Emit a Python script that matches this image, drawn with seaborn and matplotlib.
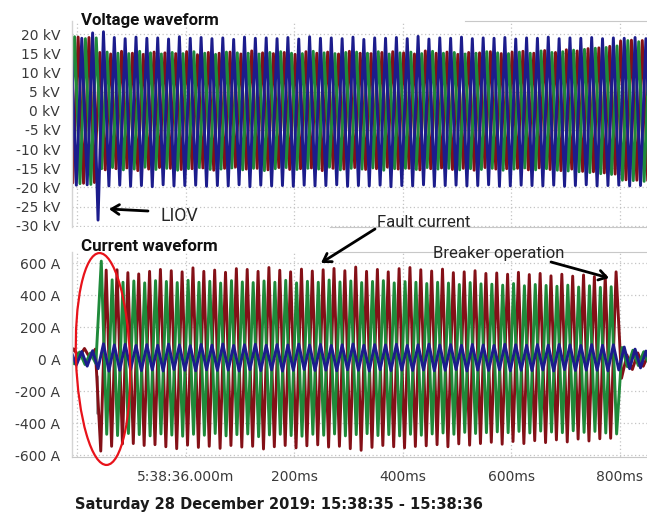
import numpy as np
import pandas as pd
import matplotlib
matplotlib.use("Agg")
import matplotlib.pyplot as plt
from matplotlib.patches import Ellipse
import seaborn as sns

# 50 Hz record: one extreme (peak or trough) every half cycle
HALF_CYCLE_MS = 10.0

# ---------------- Voltage extremes (kV), alternating peak / trough ----------------
v_red_start = -218.7
v_red_prefault = [19.0, -18.8, 19.2, -18.9, 19.1, -18.7]
v_red_fault = [
    15.2, -15.4, 14.8, -15.1, 15.5, -14.9, 15.0, -15.6, 14.7, -15.2, 15.3, -14.8,
    15.1, -15.0, 14.9, -15.3, 15.4, -15.1, 14.6, -14.9, 15.2, -15.5, 15.0, -15.0,
    15.3, -14.7, 14.8, -15.2, 15.6, -15.0, 15.1, -15.4, 14.9, -14.8, 15.2, -15.3,
    14.7, -15.1, 15.4, -14.9, 15.0, -15.6, 15.3, -15.0, 14.8, -15.2, 15.5, -14.8,
    15.0, -15.3, 14.9, -15.1, 15.2, -14.7, 15.4, -15.2, 15.1, -15.0, 14.8, -15.4,
    15.6, -15.1, 15.0, -14.9, 15.3, -15.3, 14.7, -15.0, 15.2, -15.5, 15.1, -14.8,
    15.4, -15.2, 14.9, -15.1, 15.3, -15.0, 15.5, -15.4, 15.0, -14.9, 15.7, -15.3,
    15.2, -15.6, 15.9, -15.2, 15.6, -15.8, 16.2, -15.9, 16.4, -16.2, 16.8, -16.5,
]
v_red_postfault = [18.2, -18.0, 18.4, -18.1, 18.3, -18.2]

v_green_start = -225.3
v_green_prefault = [19.1, -18.9, 19.3, -19.0, 18.8, -19.2, 19.0]
v_green_fault = [
    -15.1, 15.3, -14.8, 15.0, -15.4, 14.9, -15.2, 15.5, -14.7, 15.1, -15.3, 14.8,
    -15.0, 15.2, -15.5, 14.9, -15.1, 15.4, -14.8, 15.0, -15.3, 14.7, -15.2, 15.3,
    -14.9, 15.1, -15.4, 15.0, -15.0, 14.8, -15.6, 15.2, -15.1, 15.4, -14.8, 15.0,
    -15.3, 14.9, -15.0, 15.5, -15.2, 15.1, -14.7, 14.9, -15.4, 15.2, -15.0, 15.3,
    -15.2, 15.0, -14.9, 15.4, -15.5, 14.8, -15.1, 15.1, -15.0, 15.3, -15.3, 14.9,
    -14.8, 15.5, -15.2, 15.0, -15.0, 15.2, -15.4, 14.8, -15.1, 15.0, -15.3, 15.4,
    -15.0, 15.1, -15.5, 14.9, -15.2, 15.3, -14.9, 15.0, -15.4, 15.6, -15.1, 15.2,
    -15.5, 15.4, -15.7, 15.8, -15.9, 16.0, -16.1, 16.3, -16.4, 16.5, -16.6, 16.9,
]
v_green_postfault = [-18.1, 18.3, -18.2, 18.0, -18.4, 18.2]

v_blue_start = -222.0
v_blue_prefault = [-19.2, 19.0, -19.4, 18.9, -19.3, 20.3]
v_blue_overvoltage = [-28.5, 20.6]          # lightning induced overvoltage
v_blue_rest = [
    -19.6, 19.1, -19.4, 18.8, -19.7, 19.2, -19.5, 18.9, -19.8, 19.0,
    -19.3, 18.7, -19.6, 19.3, -19.5, 18.9, -19.4, 19.1, -19.7, 18.8,
    -19.5, 19.0, -19.6, 18.6, -19.3, 19.2, -19.8, 18.9, -19.4, 19.0,
    -19.6, 18.8, -19.5, 19.1, -19.7, 18.7, -19.4, 19.3, -19.6, 18.9,
    -19.5, 19.0, -19.3, 18.8, -19.7, 19.2, -19.5, 18.6, -19.6, 19.0,
    -19.4, 18.9, -19.8, 19.1, -19.5, 18.8, -19.6, 19.4, -19.3, 18.7,
    -19.7, 19.0, -19.5, 18.9, -19.4, 19.2, -19.6, 18.8, -19.5, 19.0,
    -19.3, 18.9, -19.7, 19.1, -19.6, 18.7, -19.4, 19.0, -19.5, 18.9,
    -19.6, 19.2, -19.4, 18.8, -19.7, 19.0, -19.5, 18.9, -19.3, 19.1,
    -19.6, 18.8, -19.5, 19.0, -19.4, 18.9, -19.6, 19.1, -19.5, 18.8,
    -19.4,
]

# ---------------- Current extremes (A), alternating peak / trough ----------------
i_red_start = -217.0
i_red_prefault = [8, 64, 12, 66, 6, 62]
i_red_fault = [
    -575, 556, -545, 558, -530, 540, -528, 532, -540, 548, -535, 560,
    -548, 552, -560, 545, -538, 570, -552, 548, -545, 556, -558, 542,
    -540, 565, -550, 560, -545, 548, -562, 572, -548, 555, -540, 545,
    -555, 562, -542, 550, -536, 558, -550, 566, -545, 552, -560, 575,
    -570, 548, -552, 560, -540, 545, -548, 565, -555, 572, -546, 558,
    -542, 550, -535, 562, -548, 540, -530, 545, -538, 552, -528, 535,
    -520, 538, -532, 530, -515, 542, -528, 528, -510, 535, -522, 520,
    -505, 530, -518, 518, -500, 525, -512, 515, -498, 522, -495, 545,
]
i_red_postfault = [-120, 25, -65, 38, -45, 30]

i_green_start = -216.0
i_green_prefault = [40, -30, 44, -34, 38, -28]
i_green_fault = [
    612, -470, 495, -478, 480, -465, 488, -472, 476, -480, 490, -468,
    485, -475, 478, -482, 492, -470, 480, -476, 486, -465, 475, -480,
    490, -472, 482, -468, 478, -485, 488, -474, 480, -470, 492, -478,
    476, -482, 486, -470, 480, -476, 494, -468, 482, -480, 488, -472,
    478, -466, 485, -478, 490, -472, 476, -480, 484, -470, 480, -476,
    472, -468, 480, -462, 475, -470, 466, -458, 478, -465, 470, -460,
    468, -455, 462, -460, 472, -452, 458, -462, 466, -450, 460, -456,
    455, -460, 462, -448, 450, -458, 458, -452, 448, -462, 452, -468,
]
i_green_postfault = [72, -48, 55, -40, 46, -35]

i_blue_start = -222.0
i_blue_prefault = [-42, 50, -38, 47, -44, 52]
i_blue_rest = [
    -60, 95, -75, 88, -70, 92, -66, 85, -72, 90,
    -68, 86, -74, 93, -65, 88, -70, 84, -73, 91,
    -67, 87, -71, 94, -69, 85, -74, 89, -66, 92,
    -72, 86, -68, 90, -75, 88, -70, 93, -65, 87,
    -71, 91, -69, 85, -73, 89, -67, 94, -70, 86,
    -74, 90, -66, 88, -72, 92, -69, 85, -71, 89,
    -68, 93, -73, 87, -70, 90, -65, 86, -74, 91,
    -69, 88, -71, 85, -67, 92, -73, 89, -70, 86,
    -72, 90, -68, 87, -74, 91, -66, 88, -71, 85,
    -69, 90, -70, 86, -73, 89, -68, 75, -60, 62,
    -55, 50, -48,
]

# neutral channel transient at fault inception
i_neutral_t = [-163.0, -163.0]
i_neutral_v = [-105, -340]

# ---------------- Axis labels ----------------
v_ticks = [20, 15, 10, 5, 0, -5, -10, -15, -20, -25, -30]
v_ticklabels = [f"{v} kV" for v in v_ticks]
i_ticks = [600, 400, 200, 0, -200, -400, -600]
i_ticklabels = [f"{v} A" for v in i_ticks]
t_ticks = [-200, 0, 200, 400, 600, 800]
t_ticklabels = ["", "5:38:36.000m", "200ms", "400ms", "600ms", "800ms"]

PHASES = ["L1", "L2", "L3"]
PHASE_COLORS = {"L1": "#841017", "L2": "#1f8a3a", "L3": "#1c1c8c"}


def phase_frame(start, chunks, phase, col):
    vals = np.concatenate([np.asarray(c, dtype=float) for c in chunks])
    t = start + HALF_CYCLE_MS * np.arange(len(vals))
    return pd.DataFrame({"t": t, col: vals, "phase": phase})


df_v = pd.concat([
    phase_frame(v_red_start, [v_red_prefault, v_red_fault, v_red_postfault], "L1", "kv"),
    phase_frame(v_green_start, [v_green_prefault, v_green_fault, v_green_postfault], "L2", "kv"),
    phase_frame(v_blue_start, [v_blue_prefault, v_blue_overvoltage, v_blue_rest], "L3", "kv"),
], ignore_index=True)

df_i = pd.concat([
    phase_frame(i_red_start, [i_red_prefault, i_red_fault, i_red_postfault], "L1", "amp"),
    phase_frame(i_green_start, [i_green_prefault, i_green_fault, i_green_postfault], "L2", "amp"),
    phase_frame(i_blue_start, [i_blue_prefault, i_blue_rest], "L3", "amp"),
], ignore_index=True)
df_n = pd.DataFrame({"t": i_neutral_t, "amp": i_neutral_v})

sns.set_style("white")
plt.rcParams["font.family"] = ["DejaVu Sans"]
NOTE_FONT = ["Roboto", "DejaVu Sans"]

W, H = 647, 515
fig = plt.figure(figsize=(W / 100, H / 100), dpi=100)


def px_rect(x0, y0, x1, y1):
    return [x0 / W, 1 - y1 / H, (x1 - x0) / W, (y1 - y0) / H]


ax_v = fig.add_axes(px_rect(72, 21, 647, 227))
ax_i = fig.add_axes(px_rect(72, 252, 647, 457))

GRID = dict(color="#c4c4c4", linestyle=(0, (1, 2)), linewidth=0.9)
TICK_COLOR = "#3a3a3a"
LW = 2.1

for ax in (ax_v, ax_i):
    ax.set_xlim(-210, 850)
    ax.set_xticks(t_ticks)
    ax.grid(True, **GRID)
    for s in ax.spines.values():
        s.set_visible(False)
    ax.spines["left"].set_visible(True)
    ax.spines["left"].set_color("#d4d4d4")
    ax.spines["left"].set_linewidth(1.0)
    ax.tick_params(axis="y", length=6.5, width=0.8, color="#d8d8d8", pad=2,
                   labelsize=10, labelcolor=TICK_COLOR)

sns.lineplot(data=df_v, x="t", y="kv", hue="phase", hue_order=PHASES,
             palette=PHASE_COLORS, estimator=None, sort=False, legend=False,
             linewidth=LW, ax=ax_v)
ax_v.set_ylim(-30.3, 23.4)
ax_v.set_yticks(v_ticks)
ax_v.set_yticklabels(v_ticklabels)
ax_v.tick_params(axis="x", length=0, labelbottom=False)
ax_v.set_xlabel("")
ax_v.set_ylabel("")
ax_v.spines["bottom"].set_visible(True)
ax_v.spines["bottom"].set_color("#c8c8c8")
ax_v.spines["bottom"].set_bounds(265, 850)
ax_v.spines["top"].set_visible(True)
ax_v.spines["top"].set_color("#c8c8c8")
ax_v.spines["top"].set_bounds(514, 850)

sns.lineplot(data=df_n, x="t", y="amp", color="#8a8a8a", estimator=None,
             sort=False, linewidth=1.8, ax=ax_i)
sns.lineplot(data=df_i, x="t", y="amp", hue="phase", hue_order=PHASES,
             palette=PHASE_COLORS, estimator=None, sort=False, legend=False,
             linewidth=LW, ax=ax_i)
ax_i.set_ylim(-612, 669)
ax_i.set_yticks(i_ticks)
ax_i.set_yticklabels(i_ticklabels)
ax_i.set_xticklabels(t_ticklabels)
ax_i.tick_params(axis="x", length=4.5, width=0.8, color="#c8c8c8", pad=5,
                 labelsize=10, labelcolor=TICK_COLOR)
ax_i.set_xlabel("")
ax_i.set_ylabel("")
ax_i.spines["bottom"].set_visible(True)
ax_i.spines["bottom"].set_color("#c8c8c8")
ax_i.spines["top"].set_visible(True)
ax_i.spines["top"].set_color("#c8c8c8")
ax_i.spines["top"].set_bounds(265, 850)


def fpx(x, y):
    return (x, H - y)


# panel titles
fig.text(81 / W, 1 - 25 / H, "Voltage waveform", family=NOTE_FONT, weight="bold",
         fontsize=12.2, va="baseline", ha="left", color="#111111")
fig.text(81 / W, 1 - 251 / H, "Current waveform", family=NOTE_FONT, weight="bold",
         fontsize=12.2, va="baseline", ha="left", color="#111111")

# date line under the time axis
fig.text(75 / W, 1 - 509 / H, "Saturday 28 December 2019: 15:38:35 - 15:38:36",
         weight="bold", fontsize=10.5, va="baseline", ha="left", color="#1a1a1a")

# event annotations
ARROW = dict(arrowstyle="->,head_length=0.55,head_width=0.35", color="black", lw=2.0,
             shrinkA=0, shrinkB=0)
ax_v.annotate("", xy=fpx(109, 209), xycoords="figure pixels",
              xytext=fpx(148, 211), textcoords="figure pixels", arrowprops=ARROW,
              annotation_clip=False)
fig.text(161 / W, 1 - 221 / H, "LIOV", family=NOTE_FONT, fontsize=12.8,
         va="baseline", ha="left")

ax_i.annotate("", xy=fpx(321, 263), xycoords="figure pixels",
              xytext=fpx(375, 229), textcoords="figure pixels", arrowprops=ARROW,
              annotation_clip=False)
fig.text(377 / W, 1 - 227 / H, "Fault current", family=NOTE_FONT, fontsize=12,
         va="baseline", ha="left")

ax_i.annotate("", xy=fpx(609, 278), xycoords="figure pixels",
              xytext=fpx(551, 262), textcoords="figure pixels", arrowprops=ARROW,
              annotation_clip=False)
fig.text(433 / W, 1 - 258 / H, "Breaker operation", family=NOTE_FONT, fontsize=12,
         va="baseline", ha="left")

# highlight of the fault inception
ring = Ellipse(xy=(103 / 100, (H - 359) / 100), width=54 / 100, height=212 / 100,
               angle=2, transform=fig.dpi_scale_trans, fill=False,
               edgecolor="#e8121a", linewidth=1.6, clip_on=False)
fig.add_artist(ring)

fig.savefig("out.png", dpi=100)
